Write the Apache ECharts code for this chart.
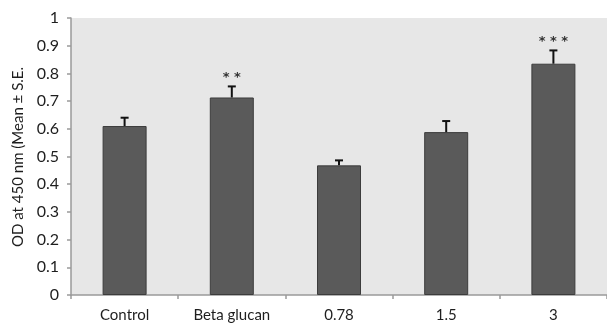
<!DOCTYPE html>
<html>
<head>
<meta charset="utf-8">
<script src="https://cdn.jsdelivr.net/npm/echarts@6/dist/echarts.min.js"></script>
<style>
  html, body { margin: 0; padding: 0; background: #fff; }
  #chart { width: 607px; height: 326px; }
</style>
</head>
<body>
<div id="chart"></div>
<script>
// Treatment groups and measured optical density (mean, standard error)
const categories = ['Control', 'Beta glucan', '0.78', '1.5', '3'];
const meanOD = [0.61, 0.713, 0.468, 0.588, 0.835];
const stdErr = [0.03, 0.04, 0.018, 0.04, 0.048];
const significance = ['', '**', '', '', '***'];
const yTicks = [0, 0.1, 0.2, 0.3, 0.4, 0.5, 0.6, 0.7, 0.8, 0.9, 1];

const FONT = 'Lato, "Open Sans", sans-serif';
const chart = echarts.init(document.getElementById('chart'), null, { renderer: 'canvas' });

const errData = meanOD.map((m, i) => [i, m, m + stdErr[i]]);

chart.setOption({
  animation: false,
  grid: { left: 71, right: 0, top: 18, bottom: 31, show: true, backgroundColor: '#e7e7e7', borderWidth: 0 },
  xAxis: {
    type: 'category',
    data: categories,
    axisLine: { lineStyle: { color: '#9a9a9a', width: 1.5 } },
    axisTick: { show: true, length: 4, lineStyle: { color: '#9a9a9a', width: 1.5 } },
    axisLabel: { color: '#1e1e1e', fontFamily: FONT, fontSize: 15, margin: 13 }
  },
  yAxis: {
    type: 'value',
    min: yTicks[0],
    max: yTicks[yTicks.length - 1],
    interval: 0.1,
    axisLine: { show: true, lineStyle: { color: '#9a9a9a', width: 1.5 } },
    axisTick: { show: true, length: 4, lineStyle: { color: '#9a9a9a', width: 1.5 } },
    splitLine: { show: false },
    axisLabel: {
      color: '#1e1e1e', fontFamily: FONT, fontSize: 16, margin: 12,
      formatter: v => String(Math.round(v * 10) / 10)
    }
  },
  graphic: [{
    type: 'text',
    x: 18, y: 157,
    rotation: Math.PI / 2,
    style: {
      text: 'OD at 450 nm (Mean ± S.E.',
      fill: '#1e1e1e',
      font: '15px ' + FONT,
      align: 'center',
      verticalAlign: 'middle'
    }
  }],
  series: [
    {
      type: 'bar',
      data: meanOD,
      barWidth: 44,
      itemStyle: { color: '#5a5a5a', borderColor: '#3c3c3c', borderWidth: 1 },
      z: 2
    },
    {
      type: 'custom',
      data: errData,
      z: 3,
      renderItem: function (params, api) {
        const base = api.coord([api.value(0), api.value(1)]);
        const top = api.coord([api.value(0), api.value(2)]);
        const half = 4;
        const style = { stroke: '#111', lineWidth: 2 };
        const idx = params.dataIndex;
        const children = [
          { type: 'line', shape: { x1: base[0], y1: base[1], x2: top[0], y2: top[1] }, style },
          { type: 'line', shape: { x1: top[0] - half, y1: top[1], x2: top[0] + half, y2: top[1] }, style }
        ];
        if (significance[idx]) {
          children.push({
            type: 'text',
            x: top[0], y: top[1] - 9,
            style: {
              text: significance[idx].split('').join(' '),
              fill: '#333',
              font: 'bold 13px "DejaVu Sans", sans-serif',
              align: 'center',
              verticalAlign: 'middle'
            }
          });
        }
        return { type: 'group', children };
      }
    }
  ]
});
</script>
</body>
</html>
